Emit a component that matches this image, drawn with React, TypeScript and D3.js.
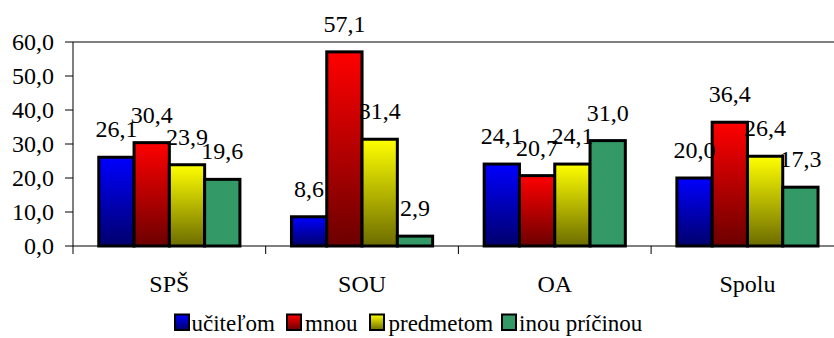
import React, { useEffect, useRef } from "react";
import * as d3 from "d3";

const categories = ["SPŠ", "SOU", "OA", "Spolu"];
const seriesNames = ["učiteľom", "mnou", "predmetom", "inou príčinou"];
const valuesUcitelom = [26.1, 8.6, 24.1, 20.0];
const valuesMnou = [30.4, 57.1, 20.7, 36.4];
const valuesPredmetom = [23.9, 31.4, 24.1, 26.4];
const valuesInou = [19.6, 2.9, 31.0, 17.3];
const yTicks = [0, 10, 20, 30, 40, 50, 60];

const seriesValues = [valuesUcitelom, valuesMnou, valuesPredmetom, valuesInou];

const W = 834;
const H = 338;
const SERIF = '"Liberation Serif", "Times New Roman", serif';

// fills: [top colour, bottom colour]; the last series is flat
const fills: [string, string][] = [
  ["#0000ff", "#00006c"],
  ["#ff0000", "#6c0000"],
  ["#ffff00", "#6c6c00"],
  ["#339966", "#339966"],
];

const fmt = (v: number) => v.toFixed(1).replace(".", ",");

export default function App() {
  const ref = useRef<SVGSVGElement | null>(null);

  useEffect(() => {
    const svg = d3.select(ref.current);
    svg.selectAll("*").remove();

    const left = 73;
    const catStep = 192.7;
    const top = 42;
    const bottom = 246;

    const x0 = d3
      .scaleBand<string>()
      .domain(categories)
      .range([left, left + catStep * categories.length])
      .padding(0);
    const x1 = d3
      .scaleBand<string>()
      .domain(seriesNames)
      .range([0, x0.bandwidth()])
      .paddingInner(0)
      .paddingOuter(0.73);
    const y = d3.scaleLinear().domain([0, 60]).range([bottom, top]);

    const defs = svg.append("defs");
    fills.forEach((f, i) => {
      const g = defs
        .append("linearGradient")
        .attr("id", `g${i}`)
        .attr("x1", 0)
        .attr("y1", 0)
        .attr("x2", 0)
        .attr("y2", 1);
      g.append("stop").attr("offset", 0).attr("stop-color", f[0]);
      g.append("stop").attr("offset", 1).attr("stop-color", f[1]);
    });

    const label = (x: number, yy: number, size: number, anchor: string, txt: string) =>
      svg
        .append("text")
        .attr("x", x)
        .attr("y", yy)
        .attr("text-anchor", anchor)
        .attr("font-family", SERIF)
        .attr("font-size", size)
        .attr("fill", "#000")
        .style("font-family", SERIF)
        .text(txt);

    // plot frame top
    svg
      .append("line")
      .attr("x1", left)
      .attr("x2", W)
      .attr("y1", y(60))
      .attr("y2", y(60))
      .attr("stroke", "#000");

    // bars
    categories.forEach((c, ci) => {
      seriesNames.forEach((s, si) => {
        const v = seriesValues[si][ci];
        svg
          .append("rect")
          .attr("x", (x0(c) ?? 0) + (x1(s) ?? 0))
          .attr("y", y(v))
          .attr("width", x1.bandwidth())
          .attr("height", y(0) - y(v))
          .attr("fill", `url(#g${si})`)
          .attr("stroke", "#000")
          .attr("stroke-width", 3);
      });
    });

    // value labels
    categories.forEach((c, ci) => {
      seriesNames.forEach((s, si) => {
        const v = seriesValues[si][ci];
        const cx = (x0(c) ?? 0) + (x1(s) ?? 0) + x1.bandwidth() / 2;
        label(cx, y(v) - 20, 24, "middle", fmt(v));
      });
    });

    // y axis
    svg
      .append("line")
      .attr("x1", left)
      .attr("x2", left)
      .attr("y1", y(60))
      .attr("y2", y(0))
      .attr("stroke", "#000");
    yTicks.forEach((t) => {
      svg
        .append("line")
        .attr("x1", left - 8)
        .attr("x2", left)
        .attr("y1", y(t))
        .attr("y2", y(t))
        .attr("stroke", "#000");
      label(54, y(t) + 8, 24, "end", fmt(t));
    });

    // x axis
    svg
      .append("line")
      .attr("x1", left)
      .attr("x2", W)
      .attr("y1", y(0))
      .attr("y2", y(0))
      .attr("stroke", "#000");
    categories.forEach((c) => {
      const cx = x0(c) ?? 0;
      svg
        .append("line")
        .attr("x1", cx)
        .attr("x2", cx)
        .attr("y1", y(0))
        .attr("y2", y(0) + 8)
        .attr("stroke", "#000");
      label(cx + x0.bandwidth() / 2, 292, 24, "middle", c);
    });

    // legend
    const legendBoxes = [175, 287, 370, 502];
    const legendTexts = [191.5, 305, 388.5, 519];
    seriesNames.forEach((s, i) => {
      svg
        .append("rect")
        .attr("x", legendBoxes[i])
        .attr("y", 314.5)
        .attr("width", 14)
        .attr("height", 15.5)
        .attr("fill", `url(#g${i})`)
        .attr("stroke", "#000")
        .attr("stroke-width", 2);
      label(legendTexts[i], 331, 23, "start", s);
    });
  }, []);

  return (
    <svg
      ref={ref}
      width={W}
      height={H}
      style={{ position: "absolute", left: 0, top: 0, background: "#fff" }}
    />
  );
}
